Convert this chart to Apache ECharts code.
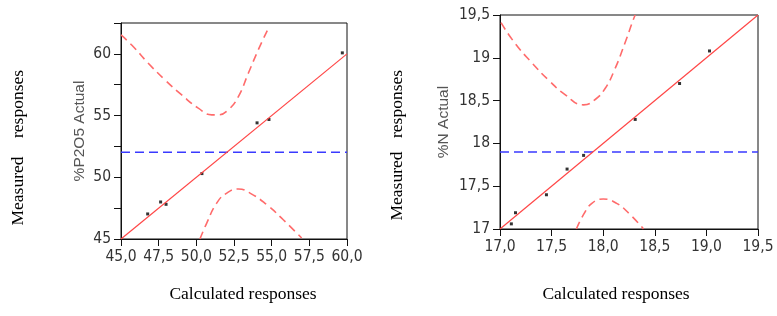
<!DOCTYPE html>
<html>
<head>
<meta charset="utf-8">
<script src="https://cdn.jsdelivr.net/npm/echarts@6/dist/echarts.min.js"></script>
<style>
  html, body { margin: 0; padding: 0; background: #fff; }
  #chart { width: 777px; height: 316px; }
</style>
</head>
<body>
<div id="chart"></div>
<script>
// left panel: %P2O5
const pointsP = [[46.77, 47.03], [47.63, 48.0], [47.99, 47.81], [50.37, 50.3], [54.03, 54.41], [54.82, 54.68], [59.69, 60.08]]
const fitP = [[45, 45], [60, 60]]
const meanP = [[45, 52.02], [60, 52.02]]
const upperP = [[45, 61.53], [45.71, 60.72], [46.81, 59.24], [47.92, 57.89], [49.03, 56.67], [50.13, 55.6],
  [51.02, 55.06], [51.46, 55.06], [52.12, 55.46], [52.79, 56.54], [53.45, 58.43], [54.11, 60.32], [54.78, 62.07]]
const lowerP = [[50.24, 45], [50.69, 46.29], [51.35, 47.91], [52.02, 48.72], [52.79, 49.05], [53.56, 48.72],
  [54.67, 47.78], [55.77, 46.56], [56.99, 45.08]]

// right panel: %N
const pointsN = [[17.11, 17.06], [17.15, 17.19], [17.45, 17.4], [17.65, 17.7], [17.81, 17.86], [18.31, 18.28], [18.74, 18.7], [19.03, 19.08]]
const fitN = [[17, 17], [19.5, 19.5]]
const meanN = [[17, 17.9], [19.5, 17.9]]
const upperN = [[17.01, 19.41], [17.145, 19.17], [17.31, 18.94], [17.47, 18.74], [17.63, 18.57], [17.81, 18.45],
  [17.92, 18.51], [18.02, 18.645], [18.11, 18.86], [18.21, 19.17], [18.29, 19.44], [18.31, 19.5]]
const lowerN = [[17.74, 17.0], [17.81, 17.17], [17.89, 17.3], [18.0, 17.35], [18.13, 17.3], [18.26, 17.17], [18.39, 17.0]]

const tickFont = '"Liberation Sans Narrow", "Arial Narrow", "DejaVu Sans Condensed", sans-serif'
const comma = (v, digits) => v.toFixed(digits).replace('.', ',')

function xAxis(gridIndex, min, max, interval) {
  return {
    type: 'value', gridIndex, min, max, interval,
    axisLine: { lineStyle: { color: '#111', width: 1 } },
    axisTick: { length: 7, lineStyle: { color: '#111' } },
    splitLine: { show: false },
    axisLabel: { margin: 10, color: '#333', fontSize: 15.5, fontFamily: tickFont, formatter: (v) => comma(v, 1) },
  }
}

function yAxis(gridIndex, min, max, interval, name, nameGap, fmt) {
  return {
    type: 'value', gridIndex, min, max, interval,
    name, nameLocation: 'middle', nameGap,
    nameTextStyle: { color: '#555', fontSize: 15.5, fontFamily: '"Liberation Sans", Arial, sans-serif' },
    axisLine: { lineStyle: { color: '#111', width: 1 } },
    axisTick: { length: 7, lineStyle: { color: '#111' } },
    splitLine: { show: false },
    axisLabel: { margin: 10, color: '#333', fontSize: 15.5, fontFamily: tickFont, formatter: fmt },
  }
}

function panelSeries(idx, points, fit, mean, upper, lower) {
  const band = { type: 'line', xAxisIndex: idx, yAxisIndex: idx, smooth: true, showSymbol: false,
    lineStyle: { color: '#ff6b6b', width: 1.6, type: [8, 5] }, silent: true }
  return [
    { ...band, data: upper },
    { ...band, data: lower },
    { type: 'line', xAxisIndex: idx, yAxisIndex: idx, showSymbol: false, data: mean,
      lineStyle: { color: '#3a3aff', width: 1.5, type: [9, 5] } },
    { type: 'line', xAxisIndex: idx, yAxisIndex: idx, showSymbol: false, data: fit,
      lineStyle: { color: '#ff4646', width: 1.2 } },
    { type: 'scatter', xAxisIndex: idx, yAxisIndex: idx, symbol: 'rect', symbolSize: 3,
      itemStyle: { color: '#000' }, data: points },
  ]
}

const serif = { fontFamily: '"Liberation Serif", "Times New Roman", serif', fontSize: 17.5, fill: '#000' }

const chart = echarts.init(document.getElementById('chart'))
chart.setOption({
  animation: false,
  grid: [
    { left: 121, top: 23, width: 226, height: 216, show: true, borderColor: '#111', borderWidth: 1 },
    { left: 500, top: 15, width: 258, height: 214, show: true, borderColor: '#111', borderWidth: 1 },
  ],
  xAxis: [xAxis(0, 45, 60, 2.5), xAxis(1, 17, 19.5, 0.5)],
  yAxis: [
    yAxis(0, 45, 62.5, 2.5, '%P2O5 Actual', 33, (v) => (v % 5 === 0 ? String(v) : '')),
    yAxis(1, 17, 19.5, 0.5, '%N Actual', 48, (v) => String(v).replace('.', ',')),
  ],
  series: [
    ...panelSeries(0, pointsP, fitP, meanP, upperP, lowerP),
    ...panelSeries(1, pointsN, fitN, meanN, upperN, lowerN),
  ],
  graphic: [
    { type: 'text', x: 243, y: 294, style: { ...serif, text: 'Calculated responses', align: 'center', verticalAlign: 'middle' } },
    { type: 'text', x: 616, y: 294, style: { ...serif, text: 'Calculated responses', align: 'center', verticalAlign: 'middle' } },
    { type: 'text', x: 18, y: 191, rotation: Math.PI / 2, style: { ...serif, text: 'Measured', align: 'center', verticalAlign: 'middle' } },
    { type: 'text', x: 18, y: 104, rotation: Math.PI / 2, style: { ...serif, text: 'responses', align: 'center', verticalAlign: 'middle' } },
    { type: 'text', x: 397, y: 186, rotation: Math.PI / 2, style: { ...serif, text: 'Measured', align: 'center', verticalAlign: 'middle' } },
    { type: 'text', x: 397, y: 104, rotation: Math.PI / 2, style: { ...serif, text: 'responses', align: 'center', verticalAlign: 'middle' } },
  ],
})
</script>
</body>
</html>
